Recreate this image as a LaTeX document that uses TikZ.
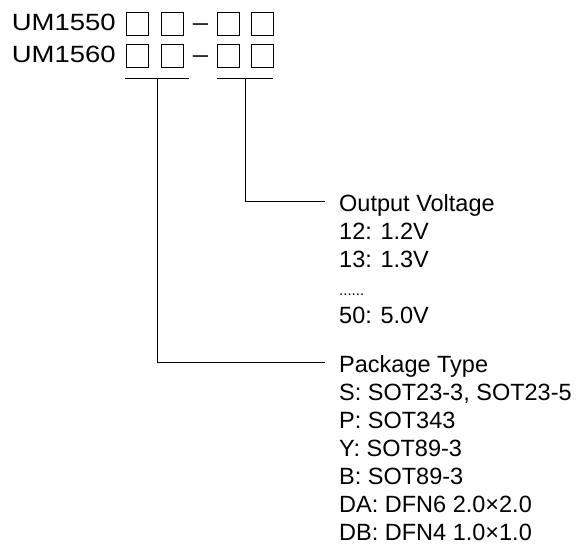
\documentclass[tikz,border=0pt]{standalone}
\usepackage{fontspec}
\setmainfont{Liberation Sans}
\newfontfamily\partfont[FakeStretch=1.17]{Liberation Sans}

\begin{document}
\begin{tikzpicture}[x=1pt, y=-1pt]
    \tikzstyle{txt}  = [anchor=base west, inner sep=0pt, font=\fontsize{23.5}{28}\selectfont]
    \tikzstyle{part} = [anchor=base east, inner sep=0pt, font=\partfont\fontsize{23.5}{28}\selectfont]
    \tikzstyle{slot} = [shape=rectangle, draw=black, line width=1pt, minimum width=22pt, minimum height=23pt, inner sep=0pt]
    \tikzstyle{wire} = [draw=black, line width=1pt]
    \useasboundingbox (0,0) rectangle (577,550);

    % part numbers with their code slots
    \node (pn1) [part] at (116,30) {UM1550};
    \node (pn2) [part] at (116,62) {UM1560};
    \foreach \r/\y/\b in {a/23.5/30, b/56/62} {
        \node (\r1) [slot] at (137,\y) {};
        \node (\r2) [slot] at (172,\y) {};
        \node (\r d) [part, anchor=base] at (200.5,\b) {–};
        \node (\r3) [slot] at (228,\y) {};
        \node (\r4) [slot] at (262,\y) {};
    }

    % underlines
    \coordinate (u1) at (157,78.5);
    \coordinate (u2) at (245,78.5);
    \draw [wire] ([xshift=-32]u1) -- ([xshift=32]u1);
    \draw [wire] ([xshift=-28]u2) -- ([xshift=28]u2);

    % output voltage
    \node (volt) [txt] at (339,211.7) {Output Voltage};
    \node (v12)  [txt] at (339,239.7) {12: 1.2V};
    \node (v13)  [txt] at (339,267.7) {13: 1.3V};
    \node (vdot) [txt, font=\fontsize{15}{15}\selectfont] at (339,295.7) {......};
    \node (v50)  [txt] at (339,323.7) {50: 5.0V};

    % package type
    \node (pkg) [txt] at (339,372.3) {Package Type};
    \foreach \t [count=\i] in {{S: SOT23-3, SOT23-5}, P: SOT343, Y: SOT89-3, B: SOT89-3, DA: DFN6 2.0×2.0, DB: DFN4 1.0×1.0}
        \node (pk\i) [txt] at (339,{372.3+28*\i}) {\t};

    \draw [wire] (u2) |- ([shift={(-14.5,-10.7)}]volt.base west);
    \draw [wire] (u1) |- ([shift={(-14.5,-10)}]pkg.base west);
\end{tikzpicture}
\end{document}
